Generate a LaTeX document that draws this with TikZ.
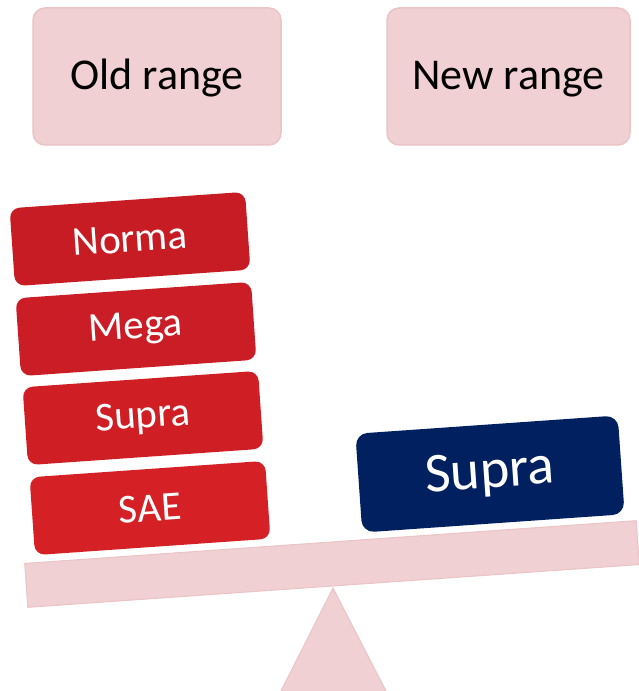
\documentclass[tikz,border=0pt]{standalone}
\usepackage{fontspec}
\setmainfont{Carlito}
\definecolor{rangepink}{HTML}{F0D0D2}
\definecolor{rangeline}{HTML}{EAC4C6}
\definecolor{normared}{HTML}{C71C24}
\definecolor{megared}{HTML}{CB1D25}
\definecolor{suprared}{HTML}{D01E25}
\definecolor{saered}{HTML}{D52026}
\definecolor{newblue}{HTML}{002060}
\begin{document}
\begin{tikzpicture}
        [x=1pt, y=1pt,
        rangebox/.style={rectangle, rounded corners=12pt, fill=rangepink, draw=rangeline, line width=1.5pt,
            minimum width=245pt, minimum height=137pt, font=\fontsize{44}{52}\selectfont},
        oldbox/.style={rectangle, rounded corners=10pt, text=white, rotate=4,
            minimum width=236pt, minimum height=78pt, font=\fontsize{41}{48}\selectfont},
        newbox/.style={rectangle, rounded corners=12pt, fill=newblue, text=white, rotate=4,
            minimum width=263pt, minimum height=99pt, font=\fontsize{56}{64}\selectfont},
        beam/.style={rectangle, fill=rangepink, draw=rangeline, line width=1pt, rotate=4,
            minimum width=613pt, minimum height=44pt},
        inner sep=0pt]

        \useasboundingbox (0, 0) rectangle (639, 691);

        % headers
        \node[rangebox, minimum width=248pt] (old) at (157, 614.5) {\raisebox{-13pt}[0pt][0pt]{Old range}};
        \node[rangebox, minimum width=243pt] (new) at (508.5, 614.5) {\raisebox{-13pt}[0pt][0pt]{New range}};

        % the pivot and the beam
        \fill[rangepink, draw=rangeline, line width=1pt] (280, -2) -- (333, 103) -- (387, -2) -- cycle;
        \node[beam] (plank) at (332, 127) {};

        % old range, stacked on the left
        \node[oldbox, fill=normared] (norma) at (130, 452) {Norma};
        \node[oldbox, fill=megared] (mega) at (136, 362) {Mega};
        \node[oldbox, fill=suprared] (supraold) at (143, 273) {Supra};
        \node[oldbox, fill=saered] (sae) at (150, 183) {SAE};

        % new range on the right
        \node[newbox] (supranew) at (490, 217) {Supra};

    \end{tikzpicture}
\end{document}
